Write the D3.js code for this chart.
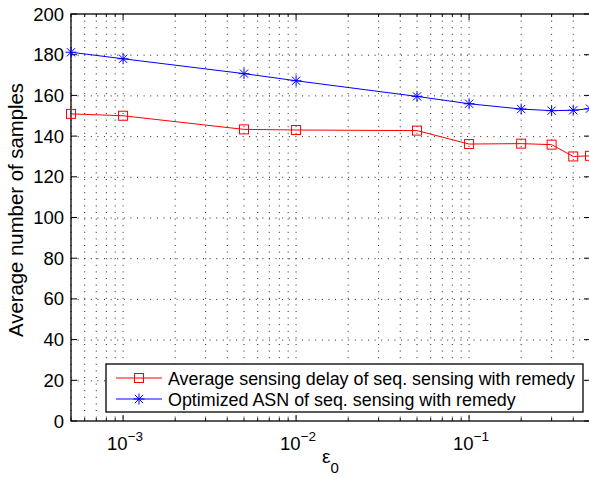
<!DOCTYPE html>
<html><head><meta charset="utf-8">
<script src="https://cdn.jsdelivr.net/npm/d3@7"></script>
<style>body{margin:0;background:#fff}svg{display:block}text{font-family:"Liberation Sans",Arial,Helvetica,sans-serif}</style>
</head><body><svg id="c" width="589" height="477"></svg>
<script>
const xValues = [5e-4, 1e-3, 5e-3, 1e-2, 5e-2, 0.1, 0.2, 0.3, 0.4, 0.5];
const delayValues = [150.9, 150.0, 143.3, 143.0, 142.7, 136.1, 136.3, 135.8, 130.0, 130.3];
const asnValues = [181.2, 178.0, 170.7, 167.2, 159.5, 155.9, 153.3, 152.5, 152.7, 153.5];
const seriesNames = ["Average sensing delay of seq. sensing with remedy", "Optimized ASN of seq. sensing with remedy"];
const yTicks = [0, 20, 40, 60, 80, 100, 120, 140, 160, 180, 200];
const xMajor = [1e-3, 1e-2, 1e-1];
const xMajorExp = ["−3", "−2", "−1"];

const svg = d3.select("#c");
const L = 71, R = 590, T = 14, B = 421;
const x = d3.scaleLog().domain([5e-4, 0.5]).range([L, R]);
const y = d3.scaleLinear().domain([0, 200]).range([B, T]);

function fit(t, target) {
  const w = t.node().getComputedTextLength();
  const fs = parseFloat(t.attr("font-size"));
  if (w > 0) t.attr("font-size", fs * target / w);
}

const minor = [];
for (let d = -4; d <= -1; d++) for (let k = 1; k <= 9; k++) {
  const v = k * Math.pow(10, d);
  if (v >= 5e-4 - 1e-12 && v <= 0.5 + 1e-12) minor.push(v);
}

// grid
const g = svg.append("g");
g.selectAll("line.vg").data(minor).join("line")
  .attr("x1", d => x(d)).attr("x2", d => x(d)).attr("y1", T).attr("y2", B)
  .attr("stroke", "#222").attr("stroke-width", 1).attr("stroke-dasharray", "1,5.6");
g.selectAll("line.hg").data(yTicks.slice(1, -1)).join("line")
  .attr("x1", L).attr("x2", R).attr("y1", d => y(d) + 0.5).attr("y2", d => y(d) + 0.5)
  .attr("stroke", "#222").attr("stroke-width", 1).attr("stroke-dasharray", "1,5.6");

// ticks (inward)
const tk = svg.append("g").attr("stroke", "#000").attr("stroke-width", 1);
minor.forEach(v => {
  const len = xMajor.includes(v) ? 6 : 3;
  tk.append("line").attr("x1", x(v)).attr("x2", x(v)).attr("y1", B).attr("y2", B - len);
  tk.append("line").attr("x1", x(v)).attr("x2", x(v)).attr("y1", T).attr("y2", T + len);
});
yTicks.forEach(v => {
  tk.append("line").attr("x1", L).attr("x2", L + 6).attr("y1", y(v)).attr("y2", y(v));
  tk.append("line").attr("x1", R).attr("x2", R - 6).attr("y1", y(v)).attr("y2", y(v));
});

// axes box
svg.append("rect").attr("x", L).attr("y", T).attr("width", R - L).attr("height", B - T)
  .attr("fill", "none").attr("stroke", "#000").attr("stroke-width", 1.3);

// y tick labels
svg.append("g").selectAll("text").data(yTicks).join("text")
  .attr("x", L - 7).attr("y", d => y(d) + 6.5).attr("text-anchor", "end")
  .attr("font-size", 18.5).text(d => d);

// x tick labels
const xl = svg.append("g");
xMajor.forEach((v, i) => {
  const t = xl.append("text").attr("x", x(v) - 16).attr("y", 450).attr("font-size", 18.5);
  t.append("tspan").text("10");
  t.append("tspan").attr("dy", -9).attr("font-size", 13.5).text(xMajorExp[i]);
});

// axis labels
const yl = svg.append("text").attr("transform", "translate(23,210) rotate(-90)")
  .attr("text-anchor", "middle").attr("font-size", 18).text("Average number of samples");
fit(yl, 254);
const xt = svg.append("text").attr("x", 322).attr("y", 463).attr("font-size", 19);
xt.append("tspan").text("ε");
xt.append("tspan").attr("dy", 10).attr("font-size", 15).text("0");

// clip
svg.append("defs").append("clipPath").attr("id", "clp").append("rect")
  .attr("x", L - 10).attr("y", T - 10).attr("width", R - L + 20).attr("height", B - T + 20);
const plot = svg.append("g").attr("clip-path", "url(#clp)");

const line = d3.line().x(d => x(d[0])).y(d => y(d[1]));
const delayPts = xValues.map((v, i) => [v, delayValues[i]]);
const asnPts = xValues.map((v, i) => [v, asnValues[i]]);

plot.append("path").datum(delayPts).attr("d", line).attr("fill", "none").attr("stroke", "#ff0000").attr("stroke-width", 1);
plot.append("path").datum(asnPts).attr("d", line).attr("fill", "none").attr("stroke", "#0000ff").attr("stroke-width", 1);

function square(sel, cx, cy) {
  sel.append("rect").attr("x", cx - 4.5).attr("y", cy - 4.5).attr("width", 9).attr("height", 9)
    .attr("fill", "none").attr("stroke", "#ff0000").attr("stroke-width", 1);
}
function star(sel, cx, cy) {
  const r = 5.5, rd = r * 0.75;
  const s = sel.append("g").attr("stroke", "#0000ff").attr("stroke-width", 1);
  s.append("line").attr("x1", cx).attr("x2", cx).attr("y1", cy - r).attr("y2", cy + r);
  s.append("line").attr("x1", cx - r).attr("x2", cx + r).attr("y1", cy).attr("y2", cy);
  s.append("line").attr("x1", cx - rd).attr("x2", cx + rd).attr("y1", cy - rd).attr("y2", cy + rd);
  s.append("line").attr("x1", cx - rd).attr("x2", cx + rd).attr("y1", cy + rd).attr("y2", cy - rd);
}
delayPts.forEach(p => square(plot, x(p[0]), y(p[1])));
asnPts.forEach(p => star(plot, x(p[0]), y(p[1])));

// legend
const lg = svg.append("g");
lg.append("rect").attr("x", 106).attr("y", 364).attr("width", 477).attr("height", 48)
  .attr("fill", "#fff").attr("stroke", "#000").attr("stroke-width", 1.3);
const rows = [{y: 378, c: "#ff0000", m: square}, {y: 399, c: "#0000ff", m: star}];
let legendScale = null;
rows.forEach((r, i) => {
  lg.append("line").attr("x1", 116).attr("x2", 162).attr("y1", r.y).attr("y2", r.y)
    .attr("stroke", r.c).attr("stroke-width", 1);
  r.m(lg, 139, r.y);
  const t = lg.append("text").attr("x", 168).attr("y", r.y + 6.5).attr("font-size", 17.8).text(seriesNames[i]);
  if (i === 0) { fit(t, 407); legendScale = t.attr("font-size"); }
  else t.attr("font-size", legendScale);
});
</script></body></html>
